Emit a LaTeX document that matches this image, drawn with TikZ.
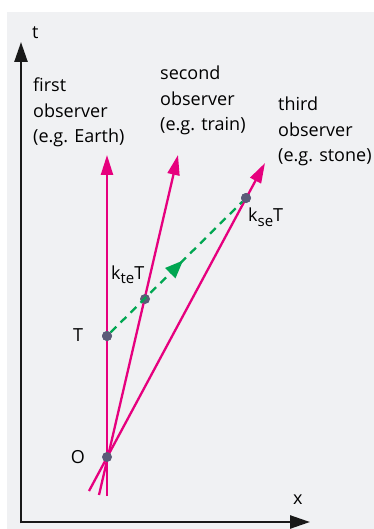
\documentclass[tikz,border=0pt]{standalone}
\usepackage{fontspec}
\setmainfont{Open Sans}
\usetikzlibrary{arrows.meta,decorations.markings}
\definecolor{bgc}{HTML}{F0F1F3}
\definecolor{mag}{HTML}{E6007E}
\definecolor{grn}{HTML}{00A651}
\definecolor{dotc}{HTML}{5B5B78}
\newcommand{\sbs}[1]{\raisebox{-0.45ex}{\fontsize{15}{15}\selectfont #1}}
\tikzset{
  axis/.style={line width=2.5pt,black!90,-{Triangle[length=20pt,width=13pt]}},
  worldline/.style={line width=2.3pt,mag,-{Triangle[length=20pt,width=12pt]}},
  pt/.style={circle,fill=dotc,inner sep=0pt,minimum size=10pt},
  lbl/.style={inner sep=0pt,font=\fontsize{18}{25}\selectfont},
  obs/.style={inner sep=0pt,align=left,anchor=north west,font=\fontsize{18}{25.5}\selectfont},
  signal/.style={line width=2.3pt,grn,dash pattern=on 8pt off 6pt,
    postaction={decorate},
    decoration={markings,mark=at position 0.55 with {\arrow{Triangle[length=18pt,width=14pt]}}}}
}
\begin{document}
\begin{tikzpicture}[x=1pt,y=-1pt]
\useasboundingbox (0,0) rectangle (374,529);
\fill[bgc] (7,12) rectangle (374,529);
% axes
\coordinate (orig) at (21,522);
\coordinate (ttip) at (21,42);
\coordinate (xtip) at (310,522);
\draw[axis] (21,523.25) -- (ttip);
\draw[axis] (orig) -- (xtip);
\node[lbl,anchor=base west] (tlab) at (32,39) {t};
\node[lbl,anchor=base west] (xlab) at (293,504) {x};
% world lines
\coordinate (b1) at (107,496);
\coordinate (b2) at (99,495);
\coordinate (b3) at (89,491);
\coordinate (tip1) at (107,155);
\coordinate (tip2) at (178,155);
\coordinate (tip3) at (265,163);
\draw[worldline] (b1) -- (tip1);
\draw[worldline] (b2) -- (tip2);
\draw[worldline] (b3) -- (tip3);
% events
\node[pt] (O) at (107,457) {};
\node[pt] (T) at (107,336) {};
\node[pt] (kte) at (145,299) {};
\node[pt] (kse) at (246,198) {};
\draw[signal] (T) -- (kse);
\node[pt] at (T) {};
\node[pt] at (kse) {};
% labels
\node[lbl] (Olab) at (78,457) {O};
\node[lbl] (Tlab) at (78,335) {T};
\node[lbl,anchor=base west] (ktelab) at (111,279) {k\sbs{te}T};
\node[lbl,anchor=base west] (kselab) at (248,222) {k\sbs{se}T};
% observer captions
\node[obs] (o1) at (33,78) {first\\observer\\(e.g. Earth)};
\node[obs] (o2) at (160,66) {second\\observer\\(e.g. train)};
\node[obs] (o3) at (278,97) {third\\observer\\(e.g. stone)};
\end{tikzpicture}
\end{document}
